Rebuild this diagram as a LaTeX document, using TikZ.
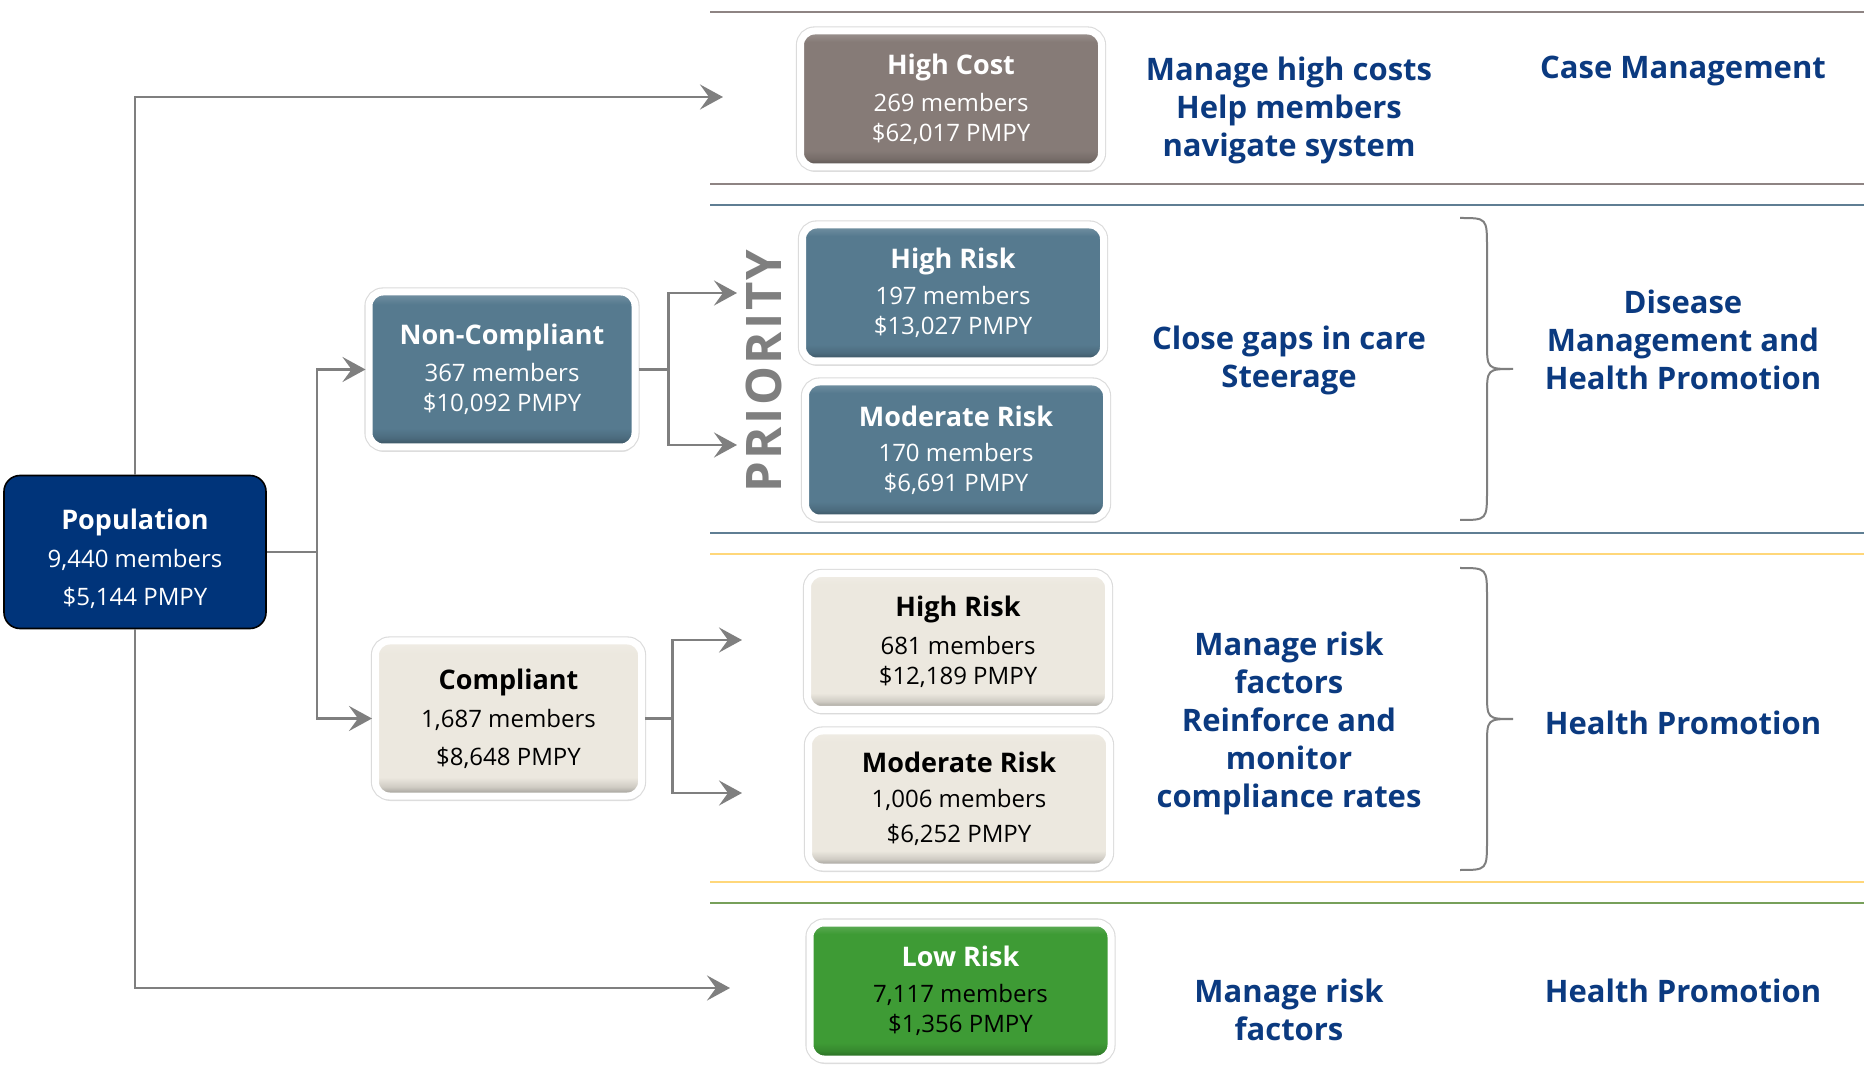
\documentclass[tikz,border=0pt]{standalone}
\usepackage{fontspec}
\setmainfont{Open Sans}
\usetikzlibrary{positioning}
\usetikzlibrary{shadows}
\usetikzlibrary{arrows.meta}

\definecolor{popblue}{HTML}{00347A}
\definecolor{costgray}{HTML}{867B77}
\definecolor{slate}{HTML}{567A8F}
\definecolor{cream}{HTML}{ECE8DF}
\definecolor{leaf}{HTML}{3E9B35}
\definecolor{navytext}{HTML}{0B3A80}
\definecolor{linkgray}{HTML}{7F7F7F}
\definecolor{bandgray}{HTML}{8E8483}
\definecolor{bandslate}{HTML}{5F7E93}
\definecolor{bandgold}{HTML}{FFD77A}
\definecolor{bandgreen}{HTML}{77A05A}

% flat face with a dark lip at the bottom and a light rim on top
\newcommand\tileshade[2]{%
  \pgfdeclareverticalshading{#1}{100bp}{color(0bp)=(#2!62!black); color(25bp)=(#2!62!black);
    color(28bp)=(#2!88!black); color(31bp)=(#2); color(71bp)=(#2);
    color(75bp)=(#2!80!white); color(100bp)=(#2!80!white)}}
\tileshade{costshade}{costgray}
\tileshade{slateshade}{slate}
\tileshade{creamshade}{cream}
\tileshade{leafshade}{leaf}

\newcommand\tiletitle[1]{{\fontsize{13.5}{15}\selectfont\bfseries #1}}

\begin{document}
\begin{tikzpicture}[x=0.5pt, y=-0.5pt,
    tile/.style={rectangle, rounded corners=7pt, draw=white, line width=3.5pt,
      shade, shading=#1, align=center, inner sep=0pt,
      font=\fontsize{12}{15}\selectfont,
      minimum width=150.5pt, minimum height=68pt,
      drop shadow={shadow xshift=0.5pt, shadow yshift=-2.5pt, opacity=0.22},
      preaction={draw=black!14, line width=4.6pt}},
    wide/.style={minimum width=133pt, minimum height=77.5pt},
    link/.style={draw=linkgray, line width=1.4pt,
      -{Stealth[length=11.5pt, width=12.5pt, inset=4.5pt]}},
    trunk/.style={draw=linkgray, line width=1.4pt},
    band/.style={line width=1.2pt},
    brace/.style={draw=linkgray, line width=1pt},
    aim/.style={text=navytext, align=center,
      font=\fontsize{15.5}{19}\selectfont\bfseries}]

\useasboundingbox[fill=white] (0,0) rectangle (1864,1074);

% tier separators
\draw[band, bandgray] (710,12) -- (1864,12);
\draw[band, bandgray] (710,184) -- (1864,184);
\draw[band, bandslate] (710,205) -- (1864,205);
\draw[band, bandslate] (710,533) -- (1864,533);
\draw[band, bandgold] (710,554) -- (1864,554);
\draw[band, bandgold] (710,882) -- (1864,882);
\draw[band, bandgreen] (710,903) -- (1864,903);

% population and its two groups
\node[rectangle, rounded corners=8pt, fill=popblue, draw=black, line width=0.8pt,
  minimum width=131pt, minimum height=76.5pt, align=center, text=white,
  font=\fontsize{12}{15}\selectfont] (pop) at (135,552)
  {\tiletitle{\rule{0pt}{17pt}Population}\\[4pt] 9,440 members\\[4pt] \$5,144 PMPY};

\node[tile=slateshade, wide, text=white] (nc) at (502,369.5)
  {\tiletitle{Non-Compliant}\\[3.5pt] 367 members\\ \$10,092 PMPY};
\node[tile=creamshade, wide, text=black] (comp) at (508.5,718.5)
  {\tiletitle{Compliant}\\[4pt] 1,687 members\\[4pt] \$8,648 PMPY};

% risk tiles
\node[tile=costshade, text=white] (hc) at (951,99)
  {\tiletitle{High Cost}\\[3.5pt] 269 members\\ \$62,017 PMPY};
\node[tile=slateshade, text=white] (nhr) at (953,293)
  {\tiletitle{High Risk}\\[3pt] 197 members\\ \$13,027 PMPY};
\node[tile=slateshade, text=white] (nmr) at (956,450)
  {\tiletitle{Moderate Risk}\\[2.5pt] 170 members\\ \$6,691 PMPY};
\node[tile=creamshade, text=black] (chr) at (958,641.5)
  {\tiletitle{High Risk}\\[4pt] 681 members\\ \$12,189 PMPY};
\node[tile=creamshade, text=black] (cmr) at (959,799)
  {\tiletitle{Moderate Risk}\\[2.5pt] 1,006 members\\[2.5pt] \$6,252 PMPY};
\node[tile=leafshade, text=black] (lr) at (960.5,991)
  {\tiletitle{\color{white}Low Risk}\\[3pt] 7,117 members\\ \$1,356 PMPY};

\node[rotate=90, text=linkgray,
  font=\fontsize{24.5}{28}\selectfont\bfseries\addfontfeature{LetterSpace=5}]
  (prio) at (764,371) {PRIORITY};

% arrow ends
\coordinate (hcIn) at (723,97);
\coordinate (lrIn) at (730,988);
\coordinate (nhrIn) at (737,293);
\coordinate (nmrIn) at (737,445);
\coordinate (chrIn) at (742,640);
\coordinate (cmrIn) at (742,793);
\coordinate (popSplit) at (317,552);

\draw[link] (pop.north) |- (hcIn);
\draw[link] (pop.south) |- (lrIn);
\draw[trunk] (pop.east) -- (popSplit);
\draw[link] (popSplit) |- (nc.west);
\draw[link] (popSplit) |- (comp.west);

\draw[trunk] (nc.east) -- ++(30,0) coordinate (ncSplit);
\draw[link] (ncSplit) |- (nhrIn);
\draw[link] (ncSplit) |- (nmrIn);

\draw[trunk] (comp.east) -- ++(27.5,0) coordinate (compSplit);
\draw[link] (compSplit) |- (chrIn);
\draw[link] (compSplit) |- (cmrIn);

% what each tier gets
\node[aim] (hcAim) at (1289,110) {Manage high costs\\Help members\\navigate system};
\node[aim] (hcProg) at (1683,71) {Case Management};
\node[aim] (ncAim) at (1289,360) {Close gaps in care\\Steerage};
\node[aim] (ncProg) at (1683,340) {Disease\\Management and\\Health Promotion};
\node[aim] (cAim) at (1289,723)
  {Manage risk\\factors\\Reinforce and\\monitor\\compliance rates};
\node[aim] (cProg) at (1683,723) {Health Promotion};
\node[aim] (lrAim) at (1289,1010) {Manage risk\\factors};
\node[aim] (lrProg) at (1683,991) {Health Promotion};

% braces
\draw[brace] (1460,218) .. controls (1487,218) .. (1487,248) -- (1487,342)
  .. controls (1487,369) .. (1513,369) .. controls (1487,369) .. (1487,396)
  -- (1487,490) .. controls (1487,520) .. (1460,520);
\draw[brace] (1460,568) .. controls (1487,568) .. (1487,598) -- (1487,692)
  .. controls (1487,719) .. (1513,719) .. controls (1487,719) .. (1487,746)
  -- (1487,840) .. controls (1487,870) .. (1460,870);

\end{tikzpicture}
\end{document}
